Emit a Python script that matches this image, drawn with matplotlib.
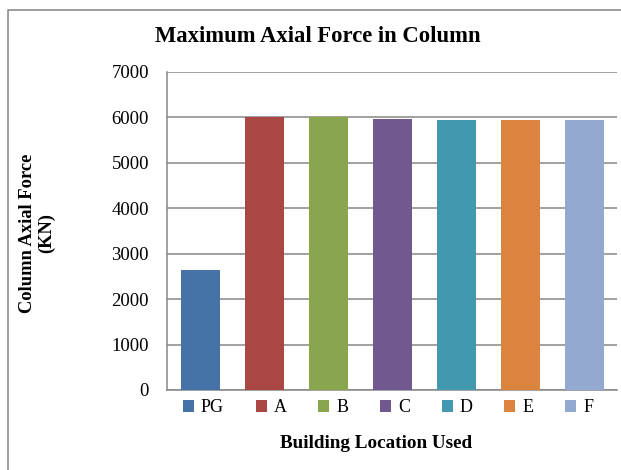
import numpy as np
import matplotlib
matplotlib.use('Agg')
import matplotlib.pyplot as plt
from matplotlib.lines import Line2D

#=========================#
#  data                   #
#=========================#
locations = ['PG', 'A', 'B', 'C', 'D', 'E', 'F']
axial_force = [2650, 6000, 6005, 5965, 5940, 5940, 5940]
bar_colors = ['#4572A7', '#AA4643', '#89A54E', '#71588F', '#4198AF', '#DB843D', '#93A9CF']
y_ticks = [0, 1000, 2000, 3000, 4000, 5000, 6000, 7000]

W, H = 621, 470
plt.rcParams['font.family'] = 'Liberation Serif'

#=========================#
#  figure                 #
#=========================#
fig = plt.figure(figsize=(W/100, H/100), dpi=100, facecolor='white')
ax = fig.add_axes([167/W, 1-390/H, (617-167)/W, (390-72)/H], facecolor='white')

# chart border (left and top only, rest is cut off)
fig.lines.append(Line2D([7.5/W, 7.5/W, 1.0], [0.0, 1-9.5/H, 1-9.5/H], transform=fig.transFigure,
                        color='#8c8c8c', lw=1.2))

x = np.arange(len(locations))
bars = ax.bar(x, axial_force, width=0.61, color=bar_colors, zorder=3)

# lim
ax.set_xlim(-0.52, 6.51)
ax.set_ylim(0, 7000)

# ticks
ax.set_yticks(y_ticks)
ax.set_yticklabels([str(v) for v in y_ticks], fontsize=13.5)
ax.set_xticks([])
ax.tick_params(axis='y', length=0, pad=13)

# grid
ax.grid(axis='y', color='#868686', linewidth=1.1, zorder=0)
ax.set_axisbelow(True)
for s in ['top', 'right']:
    ax.spines[s].set_visible(False)
for s in ['left', 'bottom']:
    ax.spines[s].set_color('#868686')
    ax.spines[s].set_linewidth(1.1)

# legend
ax.legend(bars, locations, ncol=7, frameon=False, loc='center',
          bbox_to_anchor=(388/W, 1-408/H), bbox_transform=fig.transFigure,
          handlelength=0.6, handleheight=0.6, handletextpad=0.4,
          columnspacing=1.75, fontsize=13)

# title and labels
fig.text(318/W, 1-36/H, 'Maximum Axial Force in Column', fontsize=16.3, fontweight='bold',
         ha='center', va='center')
fig.text(376/W, 1-443/H, 'Building Location Used', fontsize=13.8, fontweight='bold',
         ha='center', va='center')
fig.text(37/W, 1-233/H, 'Column Axial Force\n(KN)', fontsize=13.3, fontweight='bold',
         ha='center', va='center', rotation=90, linespacing=1.2, multialignment='center')

fig.savefig('out.png', dpi=100, facecolor='white')
plt.close()
